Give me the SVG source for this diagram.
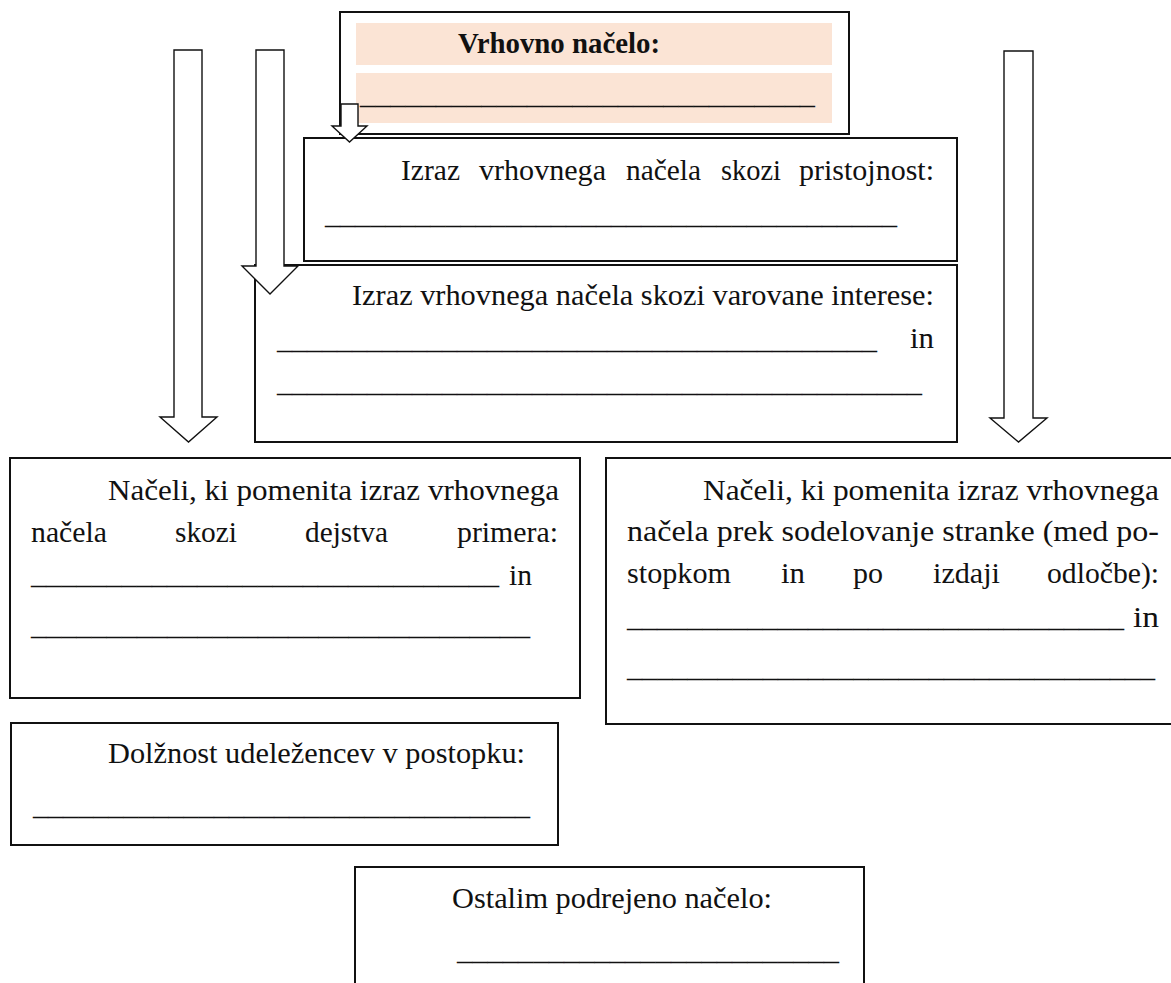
<svg xmlns="http://www.w3.org/2000/svg" width="1171" height="983" viewBox="0 0 1171 983" font-family="'Liberation Serif', 'Times New Roman', serif">
<style>
.box{fill:#ffffff;stroke:#111111;stroke-width:2}
.band{fill:#FBE4D5;stroke:none}
.arr{fill:#ffffff;stroke:#111111;stroke-width:1.4;stroke-linejoin:miter}
text{font-family:"Liberation Serif","Times New Roman",serif;font-size:30px;fill:#111111}
.b{font-weight:bold;font-size:29px}
</style>
<rect width="1171" height="983" fill="#ffffff"/>

<g id="node-vrhovno">
<rect class="box" x="340" y="12" width="509" height="122"/>
<rect class="band" x="356" y="23" width="476" height="42"/>
<rect class="band" x="356" y="73" width="476" height="50"/>
<text class="b" x="458" y="53" textLength="202" lengthAdjust="spacingAndGlyphs">Vrhovno načelo:</text>
<text x="360" y="104" textLength="455" lengthAdjust="spacingAndGlyphs">______________________________</text>
</g>

<g id="node-pristojnost">
<rect class="box" x="304" y="138" width="653" height="123"/>
<text x="401" y="180" textLength="59" lengthAdjust="spacingAndGlyphs">Izraz</text>
<text x="479" y="180" textLength="127" lengthAdjust="spacingAndGlyphs">vrhovnega</text>
<text x="626" y="180" textLength="75" lengthAdjust="spacingAndGlyphs">načela</text>
<text x="721" y="180" textLength="60" lengthAdjust="spacingAndGlyphs">skozi</text>
<text x="799" y="180" textLength="135" lengthAdjust="spacingAndGlyphs">pristojnost:</text>
<text x="325" y="224" textLength="572" lengthAdjust="spacingAndGlyphs">______________________________________</text>
</g>

<g id="node-varovane">
<rect class="box" x="255" y="265" width="702" height="177"/>
<text x="352" y="305" textLength="582" lengthAdjust="spacingAndGlyphs">Izraz vrhovnega načela skozi varovane interese:</text>
<text x="277" y="349" textLength="600" lengthAdjust="spacingAndGlyphs">________________________________________</text>
<text x="910" y="348" textLength="24" lengthAdjust="spacingAndGlyphs">in</text>
<text x="277" y="392" textLength="645" lengthAdjust="spacingAndGlyphs">___________________________________________</text>
</g>

<g id="node-dejstva">
<rect class="box" x="10" y="458" width="570" height="240"/>
<text x="108" y="500" textLength="451" lengthAdjust="spacingAndGlyphs">Načeli, ki pomenita izraz vrhovnega</text>
<text x="31" y="542" textLength="76" lengthAdjust="spacingAndGlyphs">načela</text>
<text x="175" y="542" textLength="62" lengthAdjust="spacingAndGlyphs">skozi</text>
<text x="305" y="542" textLength="83" lengthAdjust="spacingAndGlyphs">dejstva</text>
<text x="457" y="542" textLength="101" lengthAdjust="spacingAndGlyphs">primera:</text>
<text x="31" y="584" textLength="468" lengthAdjust="spacingAndGlyphs">_______________________________</text>
<text x="509" y="585" textLength="23" lengthAdjust="spacingAndGlyphs">in</text>
<text x="31" y="635" textLength="499" lengthAdjust="spacingAndGlyphs">_________________________________</text>
</g>

<g id="node-sodelovanje">
<rect class="box" x="606" y="458" width="575" height="266"/>
<text x="703" y="500" textLength="456" lengthAdjust="spacingAndGlyphs">Načeli, ki pomenita izraz vrhovnega</text>
<text x="627" y="541" textLength="532" lengthAdjust="spacingAndGlyphs">načela prek sodelovanje stranke (med po-</text>
<text x="627" y="583" textLength="104" lengthAdjust="spacingAndGlyphs">stopkom</text>
<text x="781" y="583" textLength="24" lengthAdjust="spacingAndGlyphs">in</text>
<text x="853" y="583" textLength="30" lengthAdjust="spacingAndGlyphs">po</text>
<text x="933" y="583" textLength="67" lengthAdjust="spacingAndGlyphs">izdaji</text>
<text x="1047" y="583" textLength="112" lengthAdjust="spacingAndGlyphs">odločbe):</text>
<text x="627" y="627" textLength="497" lengthAdjust="spacingAndGlyphs">_________________________________</text>
<text x="1133" y="627" textLength="26" lengthAdjust="spacingAndGlyphs">in</text>
<text x="627" y="677" textLength="528" lengthAdjust="spacingAndGlyphs">___________________________________</text>
</g>

<g id="node-dolznost">
<rect class="box" x="11" y="723" width="547" height="122"/>
<text x="108" y="763" textLength="417" lengthAdjust="spacingAndGlyphs">Dolžnost udeležencev v postopku:</text>
<text x="33" y="815" textLength="497" lengthAdjust="spacingAndGlyphs">_________________________________</text>
</g>

<g id="node-ostalim">
<rect class="box" x="355" y="867" width="509" height="130"/>
<text x="452" y="908" textLength="320" lengthAdjust="spacingAndGlyphs">Ostalim podrejeno načelo:</text>
<text x="457" y="960" textLength="382" lengthAdjust="spacingAndGlyphs">_________________________</text>
</g>

<g id="connectors">
<path class="arr" d="M174,50 L202,50 L202,417 L217,417 L188.5,442 L160,417 L174,417 Z"/>
<path class="arr" d="M256,50 L284,50 L284,266 L298,266 L270,294 L242,266 L256,266 Z"/>
<path class="arr" d="M341,104 L358,104 L358,126 L367,126 L349.5,142 L332,126 L341,126 Z"/>
<path class="arr" d="M1004,51 L1033,51 L1033,418 L1047,418 L1018.5,442 L990,418 L1004,418 Z"/>
</g>
</svg>
